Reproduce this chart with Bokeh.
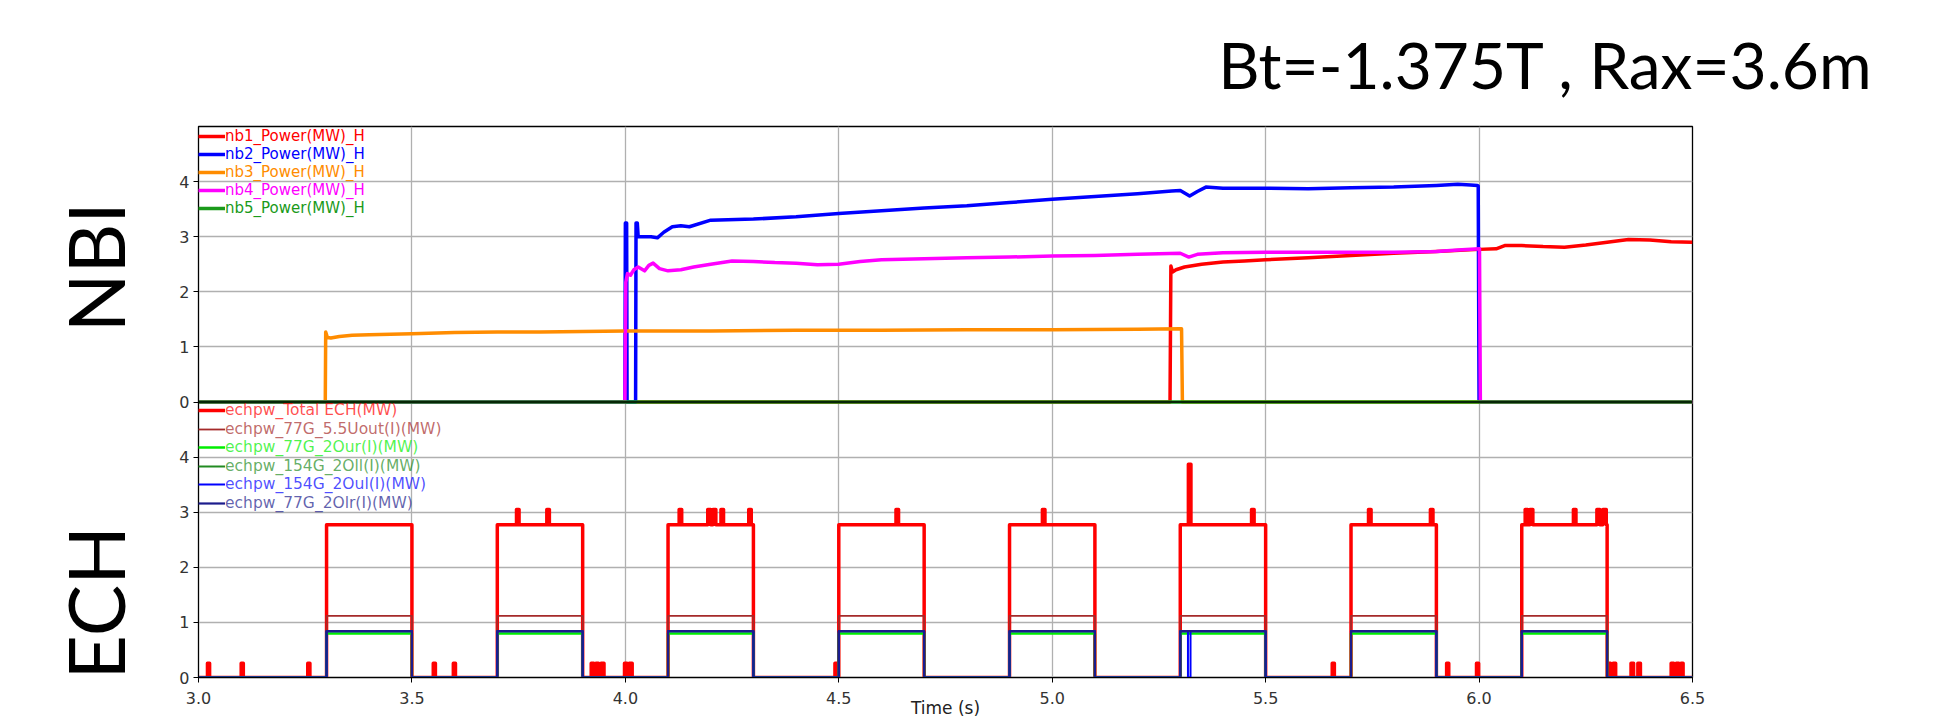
from bokeh.plotting import figure
from bokeh.models import (Range1d, FixedTicker, Legend, LegendItem, Label, Span,
                          PrintfTickFormatter)
from bokeh.layouts import row
from bokeh.embed import file_html
from bokeh.resources import INLINE

# ------------------------------------------------------------------ data
x_ticks = [3.0, 3.5, 4.0, 4.5, 5.0, 5.5, 6.0, 6.5]
y_ticks = [0, 1, 2, 3, 4]
title_text = "Bt=-1.375T , Rax=3.6m"
panel_names = ["NBI", "ECH"]

nbi_labels = ["nb1_Power(MW)_H", "nb2_Power(MW)_H", "nb3_Power(MW)_H",
              "nb4_Power(MW)_H", "nb5_Power(MW)_H"]

nb1_t = [3.0, 5.276, 5.278, 5.282, 5.29, 5.31, 5.35, 5.4, 5.45, 5.5, 5.6, 5.7,
         5.8, 5.9, 6.0, 6.04, 6.06, 6.1, 6.15, 6.2, 6.25, 6.3, 6.35, 6.4, 6.45, 6.5]
nb1_v = [0, 0, 2.47, 2.36, 2.40, 2.45, 2.50, 2.54, 2.56, 2.58, 2.62, 2.66,
         2.70, 2.73, 2.77, 2.78, 2.84, 2.84, 2.82, 2.81, 2.85, 2.90, 2.95, 2.94, 2.91, 2.90]

nb2_t = [3.0, 3.999, 4.000, 4.003, 4.004, 4.024, 4.025, 4.028, 4.03, 4.06, 4.075,
         4.09, 4.11, 4.13, 4.15, 4.2, 4.3, 4.4, 4.5, 4.6, 4.7, 4.8, 4.9, 5.0, 5.1,
         5.2, 5.28, 5.3, 5.322, 5.34, 5.36, 5.4, 5.5, 5.6, 5.7, 5.8, 5.9, 5.95,
         5.98, 5.996, 5.998, 6.0, 6.5]
nb2_v = [0, 0, 3.25, 3.25, 0, 0, 3.25, 3.25, 3.0, 3.0, 2.98,
         3.08, 3.18, 3.2, 3.18, 3.3, 3.32, 3.36, 3.42, 3.47, 3.52, 3.56, 3.62, 3.68, 3.73,
         3.78, 3.83, 3.84, 3.74, 3.82, 3.9, 3.88, 3.88, 3.87, 3.89, 3.9, 3.93, 3.95,
         3.94, 3.93, 3.92, 0, 0]

nb3_t = [3.0, 3.297, 3.298, 3.302, 3.31, 3.33, 3.36, 3.4, 3.5, 3.6, 3.7, 3.8, 4.0,
         4.2, 4.4, 4.6, 4.8, 5.0, 5.2, 5.3, 5.303, 5.305, 6.5]
nb3_v = [0, 0, 1.27, 1.17, 1.16, 1.19, 1.21, 1.22, 1.24, 1.26, 1.27, 1.27, 1.29,
         1.29, 1.30, 1.30, 1.31, 1.31, 1.32, 1.33, 1.33, 0, 0]

nb4_t = [3.0, 3.999, 4.001, 4.005, 4.012, 4.02, 4.03, 4.045, 4.055, 4.065, 4.08,
         4.1, 4.13, 4.16, 4.2, 4.25, 4.3, 4.35, 4.4, 4.45, 4.5, 4.55, 4.6, 4.7, 4.8,
         4.9, 5.0, 5.1, 5.2, 5.3, 5.32, 5.34, 5.4, 5.5, 5.6, 5.7, 5.8, 5.9, 5.95,
         6.001, 6.003, 6.5]
nb4_v = [0, 0, 2.17, 2.33, 2.30, 2.40, 2.45, 2.38, 2.48, 2.52, 2.42,
         2.38, 2.40, 2.45, 2.50, 2.56, 2.55, 2.53, 2.52, 2.49, 2.50, 2.55, 2.58, 2.60, 2.62,
         2.63, 2.65, 2.66, 2.68, 2.70, 2.63, 2.68, 2.71, 2.72, 2.72, 2.72, 2.72, 2.73, 2.76,
         2.78, 0, 0]

nb5_t = [3.0, 6.5]
nb5_v = [0, 0]

ech_labels = ["echpw_Total ECH(MW)", "echpw_77G_5.5Uout(I)(MW)",
              "echpw_77G_2Our(I)(MW)", "echpw_154G_2Oll(I)(MW)",
              "echpw_154G_2Oul(I)(MW)", "echpw_77G_2Olr(I)(MW)"]

pulse_on = [3.30, 3.70, 4.10, 4.50, 4.90, 5.30, 5.70, 6.10]
pulse_off = [3.50, 3.90, 4.30, 4.70, 5.10, 5.50, 5.90, 6.30]

total_level = 2.77
uout_level = 1.12
our_level = 0.80
oll_level = 0.84
oul_level = 0.84
olr_level = 0.84

# short bursts of the total ECH power above the pulse plateau
hi_spike_start = [3.745, 3.816, 4.126, 4.193, 4.205, 4.224, 4.289, 4.634, 4.977,
                  5.319, 5.467, 5.741, 5.886, 6.108, 6.119, 6.221, 6.276, 6.290]
hi_spike_end = [3.751, 3.822, 4.132, 4.200, 4.212, 4.230, 4.295, 4.640, 4.983,
                5.325, 5.473, 5.747, 5.892, 6.114, 6.126, 6.227, 6.283, 6.298]
hi_spike_level = [3.05, 3.05, 3.05, 3.05, 3.05, 3.05, 3.05, 3.05, 3.05,
                  3.87, 3.05, 3.05, 3.05, 3.05, 3.05, 3.05, 3.05, 3.05]

# short bursts between the pulses
lo_spike_start = [3.021, 3.100, 3.256, 3.550, 3.597, 3.920, 3.931, 3.943, 3.998,
                  4.009, 4.491, 5.656, 5.924, 5.994, 6.303, 6.314, 6.356, 6.372,
                  6.450, 6.462, 6.473]
lo_spike_end = [3.026, 3.105, 3.261, 3.555, 3.602, 3.926, 3.937, 3.950, 4.004,
                4.016, 4.496, 5.661, 5.929, 5.999, 6.308, 6.320, 6.362, 6.378,
                6.456, 6.468, 6.478]
lo_spike_level = [0.26, 0.26, 0.26, 0.26, 0.26, 0.26, 0.26, 0.26, 0.26,
                  0.26, 0.26, 0.26, 0.26, 0.26, 0.26, 0.26, 0.26, 0.26,
                  0.26, 0.26, 0.26]

# dropout of the 154G_2Oul channel
oul_gap_start = [5.318]
oul_gap_end = [5.324]

T0, T1 = 3.0, 6.5
PANEL_MAX = 5          # each panel spans 0..5 MW


# ------------------------------------------------------------------ helpers
def step_line(intervals, t0=T0, t1=T1):
    edges = sorted({e for s, f, _ in intervals for e in (s, f)})

    def level(t):
        return max([0.0] + [l for s, f, l in intervals if s <= t < f])

    xs, ys = [t0], [level(t0)]
    for e in edges:
        xs += [e, e]
        ys += [level(e - 1e-9), level(e)]
    xs.append(t1)
    ys.append(level(t1))
    return xs, ys


def cut(intervals, gaps):
    out = []
    for s, f, l in intervals:
        pieces = [(s, f)]
        for gs, ge in gaps:
            new = []
            for a, b in pieces:
                if ge <= a or gs >= b:
                    new.append((a, b))
                else:
                    if gs > a:
                        new.append((a, gs))
                    if ge < b:
                        new.append((ge, b))
            pieces = new
        out += [(a, b, l) for a, b in pieces]
    return out


def pulses(level):
    return [(a, b, level) for a, b in zip(pulse_on, pulse_off)]


total_intervals = (pulses(total_level)
                   + list(zip(hi_spike_start, hi_spike_end, hi_spike_level))
                   + list(zip(lo_spike_start, lo_spike_end, lo_spike_level)))
ech_series = [
    step_line(total_intervals),
    step_line(pulses(uout_level)),
    step_line(pulses(our_level)),
    step_line(pulses(oll_level)),
    step_line(cut(pulses(oul_level), list(zip(oul_gap_start, oul_gap_end)))),
    step_line(pulses(olr_level)),
]

# ------------------------------------------------------------------ layout
H = 720
NAMES_W = 160                      # strip on the left holding the panel names
W = 1930 - NAMES_W
LEFT, TOP = 198 - NAMES_W, 125
FRAME_W, FRAME_H = 1494, 552
RIGHT = W - LEFT - FRAME_W
BOTTOM = H - TOP - FRAME_H
HALF = FRAME_H / 2

nbi_colors = ["#ff0000", "#0000ff", "#ff8c00", "#ff00ff", "#1a9a1a"]
ech_colors = ["#ff0000", "#a52a2a", "#00ee00", "#228b22", "#0000ff", "#1c1c8c"]
ech_widths = [3.5, 1.8, 2.5, 2.0, 2.0, 2.2]

# ECH panel uses the lower half of the frame (default range),
# NBI panel uses the upper half (extra range "nbi").
ech_range = Range1d(0, 2 * PANEL_MAX)
nbi_range = Range1d(-PANEL_MAX, PANEL_MAX)

p = figure(width=W, height=H, x_range=Range1d(T0, T1), y_range=ech_range,
           output_backend="svg", toolbar_location=None,
           min_border_left=LEFT, min_border_right=RIGHT,
           min_border_top=TOP, min_border_bottom=BOTTOM,
           title=title_text, x_axis_label="Time (s)")
p.extra_y_ranges = {"nbi": nbi_range}

p.outline_line_color = "black"
p.outline_line_width = 1.3
p.background_fill_color = "white"
p.border_fill_color = "white"

p.title.align = "right"
p.title.offset = -181
p.title.standoff = 47
p.title.text_font = "Lato"
p.title.text_font_size = "64px"
p.title.text_font_style = "normal"
p.title.text_color = "black"

# y axis: ECH ticks in lower half, NBI ticks (shifted by one panel) in upper half
ech_ticks = list(y_ticks)
nbi_ticks = [t + PANEL_MAX for t in y_ticks]
p.yaxis.ticker = FixedTicker(ticks=ech_ticks + nbi_ticks)
p.yaxis.major_label_overrides = {t + PANEL_MAX: str(t) for t in y_ticks}
p.yaxis.major_label_text_font = "DejaVu Sans"
p.yaxis.major_label_text_font_size = "16px"
p.yaxis.major_label_text_color = "#333333"
p.yaxis.major_tick_out = 5
p.yaxis.major_tick_in = 0
p.yaxis.minor_tick_out = 0
p.yaxis.minor_tick_in = 0
p.yaxis.major_label_standoff = 4
p.yaxis.axis_line_color = "black"

p.xaxis.ticker = FixedTicker(ticks=x_ticks)
p.xaxis.formatter = PrintfTickFormatter(format="%.1f")
p.xaxis.major_label_text_font = "DejaVu Sans"
p.xaxis.major_label_text_font_size = "16px"
p.xaxis.major_label_text_color = "#333333"
p.xaxis.major_tick_out = 5
p.xaxis.major_tick_in = 0
p.xaxis.minor_tick_out = 0
p.xaxis.minor_tick_in = 0
p.xaxis.major_label_standoff = 9
p.xaxis.axis_line_color = "black"
p.xaxis.axis_label_text_font = "DejaVu Sans"
p.xaxis.axis_label_text_font_size = "17px"
p.xaxis.axis_label_text_font_style = "normal"
p.xaxis.axis_label_text_color = "#222222"
p.xaxis.axis_label_standoff = -9

for g in (p.xgrid, p.ygrid):
    g.grid_line_color = "#b0b0b0"
    g.grid_line_width = 1.3

# boundary between the two panels
p.add_layout(Span(location=0, dimension="width", y_range_name="nbi",
                  line_color="black", line_width=1.3))


def row_legends(renderers, labels, colors, first, step, alpha, size):
    row_h = 18
    for i, (r, lab, col) in enumerate(zip(renderers, labels, colors)):
        center = first + step * i
        lg = Legend(items=[LegendItem(label=lab, renderers=[r])],
                    location=(0, FRAME_H - center - row_h / 2),
                    label_text_font="DejaVu Sans", label_text_font_size=size,
                    label_text_color=col, label_text_alpha=alpha,
                    glyph_width=27, glyph_height=row_h, label_height=row_h,
                    label_standoff=0, padding=0, margin=0, spacing=0,
                    border_line_alpha=0, background_fill_alpha=0)
        p.add_layout(lg)


# ------------------------------------------------------------------ NBI
nbi_data = [(nb1_t, nb1_v), (nb2_t, nb2_v), (nb3_t, nb3_v), (nb4_t, nb4_v), (nb5_t, nb5_v)]
nbi_r = []
for (t, v), c in zip(nbi_data, nbi_colors):
    nbi_r.append(p.line(t, v, y_range_name="nbi", line_color=c, line_width=3.5,
                        line_join="round"))

# ------------------------------------------------------------------ ECH
ech_r = []
for (xs, ys), c, w in zip(ech_series, ech_colors, ech_widths):
    ech_r.append(p.line(xs, ys, line_color=c, line_width=w, line_join="round"))

row_legends(nbi_r, nbi_labels, nbi_colors, 11, 17.9, 1.0, "15px")
row_legends(ech_r, ech_labels, ech_colors, HALF + 9, 18.6, 0.7, "15.5px")

# ------------------------------------------------------------------ panel names
# a strip left of the chart; its frame is aligned with the chart frame and
# shares its y ranges, so the names sit next to their panels.
names = figure(width=NAMES_W, height=H, x_range=Range1d(0, NAMES_W),
               y_range=ech_range, x_axis_location=None, y_axis_location=None,
               output_backend="svg", toolbar_location=None,
               min_border_left=0, min_border_right=0,
               min_border_top=TOP, min_border_bottom=BOTTOM)
names.extra_y_ranges = {"nbi": nbi_range}
names.outline_line_color = None
names.background_fill_color = "white"
names.border_fill_color = "white"
names.xgrid.visible = False
names.ygrid.visible = False
names.add_layout(Label(x=94, y=PANEL_MAX / 2, y_range_name="nbi", y_offset=-3,
                       text=panel_names[0], angle=90, angle_units="deg",
                       text_align="center", text_baseline="middle",
                       text_font="Lato", text_font_size="77px", text_color="black"))
names.add_layout(Label(x=94, y=PANEL_MAX / 2, y_offset=-63,
                       text=panel_names[1], angle=90, angle_units="deg",
                       text_align="center", text_baseline="middle",
                       text_font="Lato", text_font_size="77px", text_color="black"))

layout = row(names, p, spacing=0)
open("out.html", "w").write(file_html(layout, INLINE))
